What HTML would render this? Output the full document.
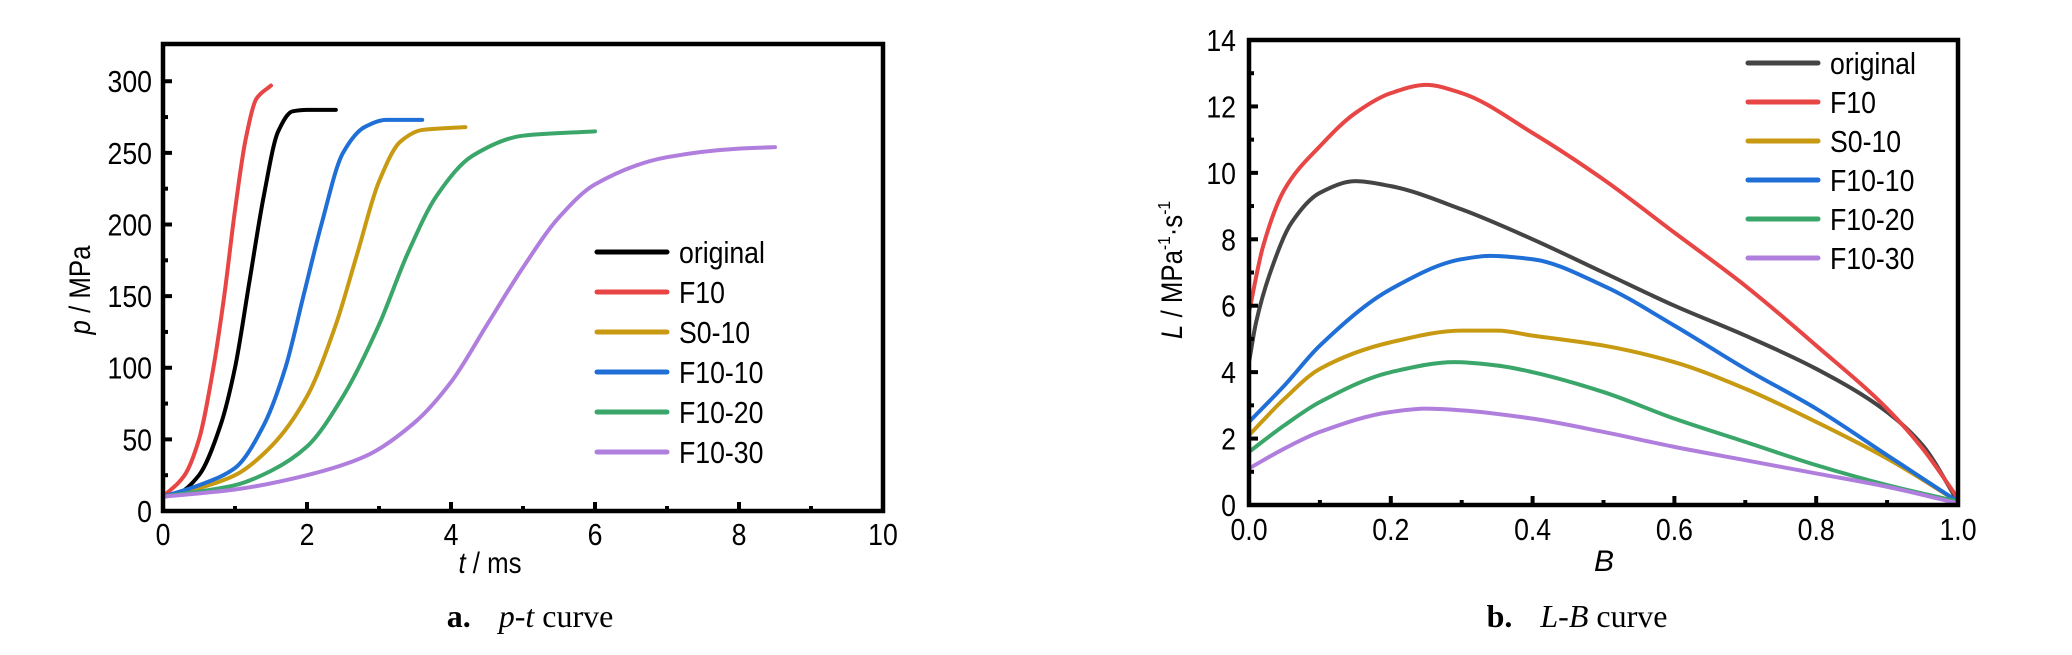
<!DOCTYPE html>
<html><head><meta charset="utf-8"><style>
html,body{margin:0;padding:0;background:#fff;}
svg{display:block;}
text{font-family:"Liberation Sans Narrow","Liberation Sans",sans-serif;fill:#000;}
.cap{font-family:"Liberation Serif",serif;font-size:32px;}
</style></head><body>
<svg id="fig" width="2072" height="655" viewBox="0 0 2072 655" xmlns="http://www.w3.org/2000/svg">
<g id="chartA"></g>
<g id="chartB"></g>
<text class="cap" x="530" y="627" text-anchor="middle"><tspan font-weight="bold">a.</tspan><tspan dx="28" font-style="italic">p</tspan>-<tspan font-style="italic">t</tspan> curve</text>
<text class="cap" x="1577" y="627" text-anchor="middle"><tspan font-weight="bold">b.</tspan><tspan dx="28" font-style="italic">L</tspan>-<tspan font-style="italic">B</tspan> curve</text>
<text x="90" y="290" font-size="30" text-anchor="middle" transform="rotate(-90 90 290) translate(90 290) scale(0.86 1) translate(-90 -290)"><tspan font-style="italic">p</tspan> / MPa</text>
<text x="490" y="573" font-size="30" text-anchor="middle" transform="translate(490 573) scale(0.86 1) translate(-490 -573)"><tspan font-style="italic">t</tspan> / ms</text>
<text x="1182" y="270" font-size="30" text-anchor="middle" transform="rotate(-90 1182 270) translate(1182 270) scale(0.86 1) translate(-1182 -270)"><tspan font-style="italic">L</tspan> / MPa<tspan font-size="18" dy="-12">-1</tspan><tspan dy="12">·s</tspan><tspan font-size="18" dy="-12">-1</tspan></text>
<text x="1604" y="571" font-size="30" text-anchor="middle" font-style="italic">B</text>
</svg>
<script>
// ---- Chart A data (t in ms, p in MPa) ----
const seriesNames = ["original","F10","S0-10","F10-10","F10-20","F10-30"];
const colorsA = ["#000000","#e84545","#c89a12","#1f6fd6","#3aa66a","#b07fdd"];
const colorsB = ["#444444","#e84545","#c89a12","#1f6fd6","#3aa66a","#b07fdd"];
const tOriginal = [0,0.2,0.5,0.8,1.0,1.2,1.4,1.6,1.8,2.0,2.4];
const pOriginal = [10,12,25,60,100,160,220,265,279,280,280];
const tF10 = [0,0.3,0.5,0.7,0.85,1.0,1.15,1.3,1.5];
const pF10 = [10,25,50,100,150,210,260,288,297];
const tS010 = [0,0.5,1,1.5,2,2.4,2.7,3.0,3.3,3.6,4.2];
const pS010 = [10,16,25,45,80,130,180,230,258,266,268];
const tF1010 = [0,0.5,1.0,1.4,1.7,1.95,2.2,2.5,2.8,3.1,3.6];
const pF1010 = [10,18,30,60,100,150,200,250,268,273,273];
const tF1020 = [0,1,1.5,2,2.5,3,3.4,3.8,4.3,5,6];
const pF1020 = [10,18,28,45,80,130,180,220,248,262,265];
const tF1030 = [0,1,2,2.8,3.5,4,4.5,5,5.5,6,7,8,8.5];
const pF1030 = [10,15,25,38,62,90,130,170,205,228,247,253,254];
const xTicksA = [0,2,4,6,8,10];
const yTicksA = [0,50,100,150,200,250,300];
// ---- Chart B data (B, L) ----
const bOriginal = [0,0.01,0.03,0.06,0.1,0.15,0.2,0.3,0.4,0.5,0.6,0.7,0.8,0.9,0.95,1.0];
const lOriginal = [4.3,5.5,7,8.5,9.4,9.75,9.6,8.9,8.0,7.0,6.0,5.1,4.1,2.8,1.8,0.1];
const bF10 = [0,0.02,0.05,0.1,0.15,0.2,0.25,0.3,0.4,0.5,0.6,0.7,0.8,0.9,0.95,1.0];
const lF10 = [5.8,7.8,9.5,10.8,11.8,12.4,12.65,12.4,11.2,9.8,8.2,6.6,4.8,2.9,1.7,0.2];
const bS010 = [0,0.05,0.1,0.2,0.3,0.35,0.4,0.5,0.6,0.7,0.8,0.9,1];
const lS010 = [2.1,3.2,4.1,4.9,5.25,5.25,5.1,4.8,4.3,3.5,2.5,1.4,0.1];
const bF1010 = [0,0.05,0.1,0.2,0.3,0.34,0.4,0.5,0.6,0.7,0.8,0.9,1];
const lF1010 = [2.5,3.6,4.8,6.5,7.4,7.5,7.4,6.6,5.4,4.1,2.9,1.5,0.1];
const bF1020 = [0,0.05,0.1,0.2,0.29,0.35,0.4,0.5,0.6,0.7,0.8,0.9,1];
const lF1020 = [1.6,2.4,3.1,4.0,4.3,4.2,4.0,3.4,2.6,1.9,1.2,0.6,0.1];
const bF1030 = [0,0.05,0.1,0.2,0.25,0.3,0.4,0.5,0.6,0.7,0.8,0.9,1];
const lF1030 = [1.1,1.7,2.2,2.8,2.9,2.85,2.6,2.2,1.75,1.35,0.95,0.55,0.05];
const xTicksB = ["0.0","0.2","0.4","0.6","0.8","1.0"];
const yTicksB = [0,2,4,6,8,10,12,14];

const NS="http://www.w3.org/2000/svg";
function mk(parent,tag,attrs){const e=document.createElementNS(NS,tag);for(const k in attrs)e.setAttribute(k,attrs[k]);parent.appendChild(e);return e;}
function narrow(el,x,y){el.setAttribute("transform","translate("+x+" "+y+") scale(0.86 1) translate("+(-x)+" "+(-y)+")");}
// monotone cubic (Fritsch-Carlson) in pixel space
function smooth(pts){
  const n=pts.length;const dx=[],dy=[],m=[];
  for(let i=0;i<n-1;i++){dx.push(pts[i+1][0]-pts[i][0]);dy.push(pts[i+1][1]-pts[i][1]);m.push(dy[i]/dx[i]);}
  const t=[m[0]];
  for(let i=1;i<n-1;i++){ if(m[i-1]*m[i]<=0)t.push(0); else {const w1=2*dx[i]+dx[i-1],w2=dx[i]+2*dx[i-1];t.push((w1+w2)/(w1/m[i-1]+w2/m[i]));}}
  t.push(m[n-2]);
  let d="M"+pts[0][0]+","+pts[0][1];
  for(let i=0;i<n-1;i++){const h=dx[i]/3;
    d+=" C"+(pts[i][0]+h)+","+(pts[i][1]+t[i]*h)+" "+(pts[i+1][0]-h)+","+(pts[i+1][1]-t[i+1]*h)+" "+pts[i+1][0]+","+pts[i+1][1];}
  return d;}

function drawChart(g,cfg){
  const sx=v=>cfg.x0+(v-cfg.xmin)/(cfg.xmax-cfg.xmin)*(cfg.x1-cfg.x0);
  const sy=v=>cfg.y0-(v-cfg.ymin)/(cfg.ymax-cfg.ymin)*(cfg.y0-cfg.y1);
  cfg.xs.forEach((xs,i)=>{
    const pts=xs.map((x,j)=>[sx(x),sy(cfg.ys[i][j])]);
    const p=mk(g,"path",{d:smooth(pts),fill:"none",stroke:cfg.colors[i],"stroke-width":4,"stroke-linecap":"round","stroke-linejoin":"round"});
    
    
  });
  const fr=mk(g,"rect",{x:cfg.x0,y:cfg.y1,width:cfg.x1-cfg.x0,height:cfg.y0-cfg.y1,fill:"none",stroke:"#000","stroke-width":4.5});
  
  
  cfg.xt.forEach((t,i)=>{
    const v=parseFloat(t),x=sx(v);
    const tk=mk(g,"line",{x1:x,x2:x,y1:cfg.y0,y2:cfg.y0-9,stroke:"#000","stroke-width":4});
    
    
    const tx=mk(g,"text",{x:x,y:cfg.xlY,"text-anchor":"middle","font-size":31});
    tx.textContent=t;narrow(tx,x,cfg.xlY);
    
    
    if(i<cfg.xt.length-1){const m=sx(v+cfg.xminor);
      const mt=mk(g,"line",{x1:m,x2:m,y1:cfg.y0,y2:cfg.y0-5,stroke:"#000","stroke-width":4});
      
      }
  });
  cfg.yt.forEach((v,i)=>{
    const y=sy(v);
    const tk=mk(g,"line",{x1:cfg.x0,x2:cfg.x0+9,y1:y,y2:y,stroke:"#000","stroke-width":4});
    
    
    const tx=mk(g,"text",{x:cfg.ylX,y:y+11,"text-anchor":"end","font-size":31});
    tx.textContent=String(v);narrow(tx,cfg.ylX,y+11);
    
    
    if(i<cfg.yt.length-1){const m=sy(v+cfg.yminor);
      const mt=mk(g,"line",{x1:cfg.x0,x2:cfg.x0+5,y1:m,y2:m,stroke:"#000","stroke-width":4});
      
      }
  });
  seriesNames.forEach((n,i)=>{
    const y=cfg.legY+i*cfg.legDy;
    const ln=mk(g,"line",{x1:cfg.legX,x2:cfg.legX+70,y1:y,y2:y,stroke:cfg.colors[i],"stroke-width":5,"stroke-linecap":"round"});
    
    
    const tx=mk(g,"text",{x:cfg.legX+82,y:y+11,"font-size":31});
    tx.textContent=n;narrow(tx,cfg.legX+82,y+11);
    
    
  });
}

drawChart(document.getElementById("chartA"),{
  x0:163,x1:883,y0:511,y1:44,xmin:0,xmax:10,ymin:0,ymax:326,
  xs:[tOriginal,tF10,tS010,tF1010,tF1020,tF1030],ys:[pOriginal,pF10,pS010,pF1010,pF1020,pF1030],
  colors:colorsA,xt:xTicksA.map(String),yt:yTicksA,xminor:1,yminor:25,xlY:545,ylX:152,legX:597,legY:252,legDy:40
});
drawChart(document.getElementById("chartB"),{
  x0:1249,x1:1958,y0:505,y1:40,xmin:0,xmax:1,ymin:0,ymax:14,
  xs:[bOriginal,bF10,bS010,bF1010,bF1020,bF1030],ys:[lOriginal,lF10,lS010,lF1010,lF1020,lF1030],
  colors:colorsB,xt:xTicksB,yt:yTicksB,xminor:0.1,yminor:1,xlY:540,ylX:1236,legX:1748,legY:63,legDy:39
});
</script>
</body></html>
